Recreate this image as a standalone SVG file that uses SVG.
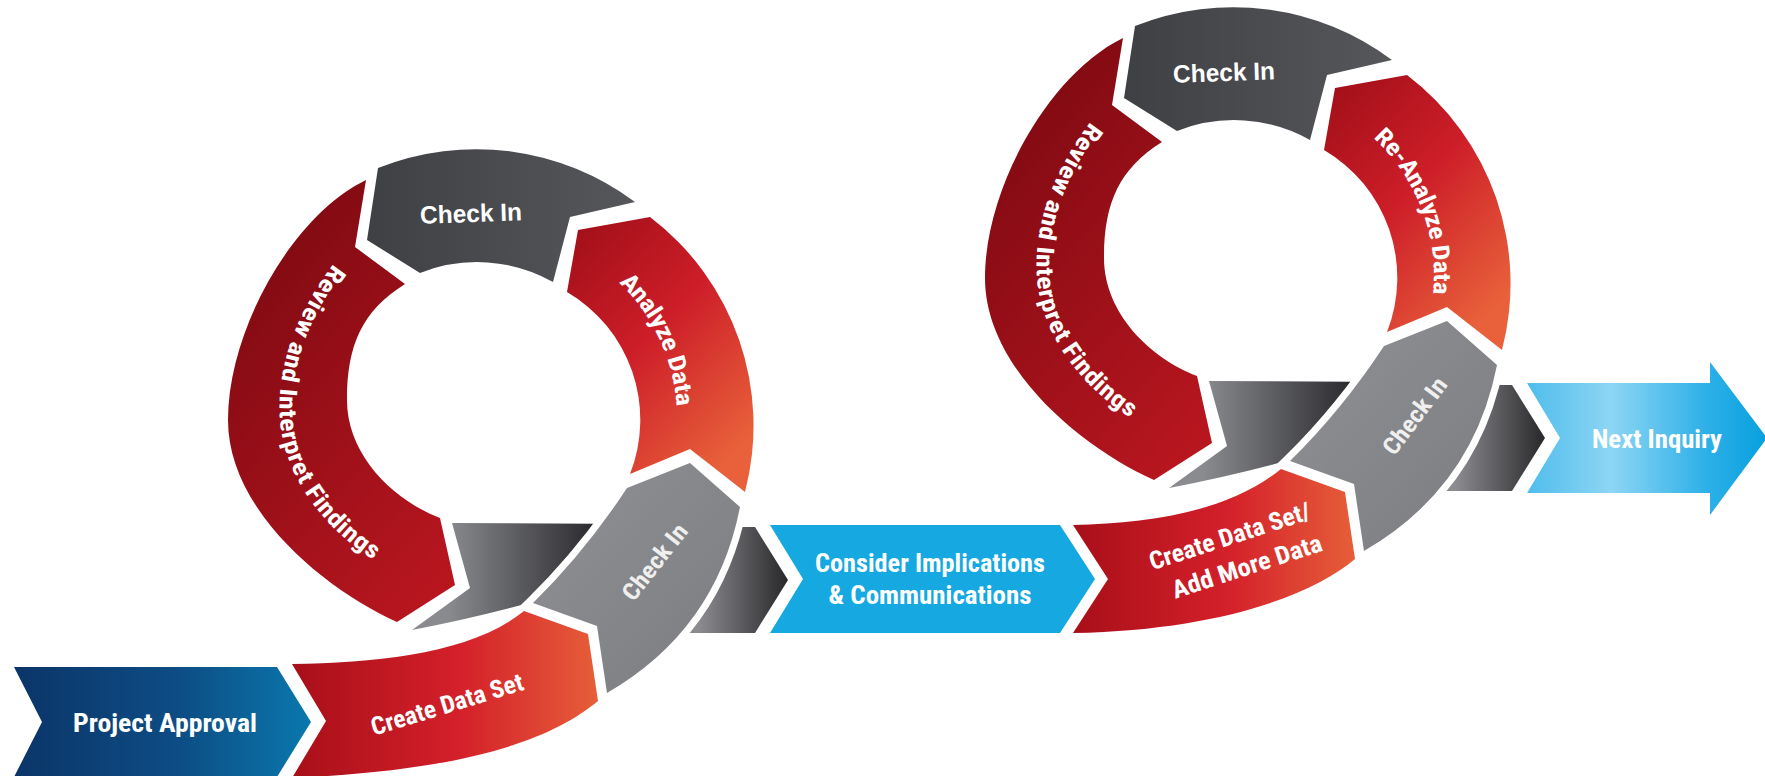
<svg xmlns="http://www.w3.org/2000/svg" width="1765" height="776" viewBox="0 0 1765 776">
<style>
.lbl{fill:#ffffff;font-family:'Roboto Condensed','Liberation Sans Narrow',Roboto,'Liberation Sans',sans-serif;font-weight:700;font-size:25px}
.ring{font-size:24px}
.ck{fill:#ffffff;font-family:'Liberation Sans',Arial,sans-serif;font-weight:700;font-size:25px}
.cklow{fill:#efefef;font-family:'Roboto Condensed','Liberation Sans Narrow',Roboto,sans-serif;font-weight:700;font-size:24px}
.low{fill:url(#gLow);stroke:#ffffff;stroke-width:14;stroke-linejoin:miter;paint-order:stroke}
</style>
<defs>
<linearGradient id="gPA" x1="0" y1="0" x2="1" y2="0"><stop offset="0" stop-color="#0b3568"/><stop offset="0.55" stop-color="#0d4c84"/><stop offset="1" stop-color="#0a78ad"/></linearGradient>
<linearGradient id="gReview" x1="0.2" y1="0" x2="0.8" y2="1"><stop offset="0" stop-color="#7c0911"/><stop offset="1" stop-color="#b8161f"/></linearGradient>
<linearGradient id="gAnalyze" x1="0" y1="0" x2="0.7" y2="1"><stop offset="0" stop-color="#9e0e17"/><stop offset="0.5" stop-color="#cd1e29"/><stop offset="1" stop-color="#e8613a"/></linearGradient>
<linearGradient id="gCreate" x1="0" y1="0" x2="1" y2="0"><stop offset="0" stop-color="#a80f19"/><stop offset="0.55" stop-color="#d4202a"/><stop offset="1" stop-color="#e65e39"/></linearGradient>
<linearGradient id="gTop" x1="0" y1="0" x2="1" y2="0"><stop offset="0" stop-color="#3f4044"/><stop offset="1" stop-color="#56575b"/></linearGradient>
<linearGradient id="gLow" x1="0" y1="0" x2="1" y2="1"><stop offset="0" stop-color="#909195"/><stop offset="1" stop-color="#7b7c80"/></linearGradient>
<linearGradient id="gDarkL" x1="0" y1="0" x2="1" y2="0"><stop offset="0.15" stop-color="#8a8b8f"/><stop offset="0.8" stop-color="#2b2b2f"/></linearGradient>
<linearGradient id="gDarkR" x1="0" y1="0" x2="1" y2="0"><stop offset="0.35" stop-color="#8c8c90"/><stop offset="1" stop-color="#28282b"/></linearGradient>
<linearGradient id="gNext" x1="0" y1="0" x2="1" y2="0"><stop offset="0" stop-color="#4fbdec"/><stop offset="0.35" stop-color="#8dd5f4"/><stop offset="0.75" stop-color="#2db0e8"/><stop offset="1" stop-color="#07a0df"/></linearGradient>
<path id="pRev" d="M360,245 C300,310 284,375 288,420 C292,475 335,535 405,568"/>
<path id="pAna" d="M540.5,229.6 A195,195 0 0 1 666.7,500.4"/>
<path id="shReview" d="M366,180 C292,216 228,330 228,420 C228,510 324,589 397,622 L455,585 L440,518 C393,500 347,455 347,400 C347,345 362,311 405,284 L355,247 Z"/>
<path id="shTop" d="M378,168 A265,265 0 0 1 635,202 L570,217 L553,282 A155,155 0 0 0 420,273 L367,240 Z"/>
<path id="shAnalyze" d="M650,217 L578,230 L567,292 A148,148 0 0 1 630,474 L690,449 L745,492 A262,262 0 0 0 650,217 Z"/>
<path id="shLow" d="M533,603 Q585,552 627,488 L690,463 L740,507 Q716,630 607,693 L597,626 Z"/>
<path id="shDL" d="M452,523 L640,524 L640,620 L540,600 Q475,618 412,630 L470,588 Z"/>
<path id="shDR" d="M650,527 L755,527 L788,580 L755,633 L650,633 Z"/>
</defs>
<rect width="1765" height="776" fill="#ffffff"/>

<g id="connectors">
  <use href="#shDL" fill="url(#gDarkL)"/>
  <use href="#shDR" fill="url(#gDarkR)"/>
  <g transform="translate(757,-142)">
    <use href="#shDL" fill="url(#gDarkL)"/>
    <use href="#shDR" fill="url(#gDarkR)"/>
  </g>
</g>

<g id="node-project-approval">
  <path d="M14,667 L277,667 L311,722 L277,777 L14,777 L42,722 Z" fill="url(#gPA)"/>
  <text class="lbl" x="165" y="732" text-anchor="middle" textLength="184" lengthAdjust="spacingAndGlyphs">Project Approval</text>
</g>

<g id="node-create-data-set">
  <path d="M292,664 C380,662 470,654 524,611 L588,634 L598,701 C552,739 470,770 292,778 L326,721 Z" fill="url(#gCreate)"/>
  <text class="lbl" transform="translate(447,704) rotate(-17)" x="0" y="9" text-anchor="middle" textLength="158" lengthAdjust="spacingAndGlyphs">Create Data Set</text>
</g>

<g id="node-review-1">
  <use href="#shReview" fill="url(#gReview)"/>
  <text class="lbl ring" dominant-baseline="central"><textPath href="#pRev" startOffset="50%" text-anchor="middle" textLength="330" lengthAdjust="spacingAndGlyphs">Review and Interpret Findings</textPath></text>
</g>

<g id="node-checkin-top-1">
  <use href="#shTop" fill="url(#gTop)"/>
  <text class="ck" transform="translate(471,213) rotate(-2)" x="0" y="9" text-anchor="middle" textLength="102" lengthAdjust="spacingAndGlyphs">Check In</text>
</g>

<g id="node-analyze-data">
  <use href="#shAnalyze" fill="url(#gAnalyze)"/>
  <text class="lbl ring" dominant-baseline="central"><textPath href="#pAna" startOffset="50%" text-anchor="middle" textLength="145" lengthAdjust="spacingAndGlyphs">Analyze Data</textPath></text>
</g>

<g id="node-checkin-low-1">
  <use href="#shLow" class="low"/>
  <text class="cklow" transform="translate(655,562) rotate(-52)" x="0" y="8" text-anchor="middle" textLength="90" lengthAdjust="spacingAndGlyphs">Check In</text>
</g>

<g id="node-consider">
  <path d="M770,525 L1060,525 L1095,579 L1060,633 L770,633 L803,579 Z" fill="#15a8e1"/>
  <text class="lbl" x="930" y="572" text-anchor="middle" textLength="230" lengthAdjust="spacingAndGlyphs">Consider Implications</text>
  <text class="lbl" x="930" y="604" text-anchor="middle" textLength="203" lengthAdjust="spacingAndGlyphs">&amp; Communications</text>
</g>

<g id="node-create-add-more">
  <path d="M1073,525 C1150,523 1228,512 1281,469 L1345,492 L1355,559 C1312,595 1220,630 1073,633 L1108,579 Z" fill="url(#gCreate)"/>
  <g transform="translate(1238,552) rotate(-18)">
    <text class="lbl" x="-3" y="-9" text-anchor="middle" textLength="168" lengthAdjust="spacingAndGlyphs">Create Data Set/</text>
    <text class="lbl" x="4" y="25" text-anchor="middle" textLength="156" lengthAdjust="spacingAndGlyphs">Add More Data</text>
  </g>
</g>

<g id="node-review-2" transform="translate(757,-142)">
  <use href="#shReview" fill="url(#gReview)"/>
  <text class="lbl ring" dominant-baseline="central"><textPath href="#pRev" startOffset="50%" text-anchor="middle" textLength="330" lengthAdjust="spacingAndGlyphs">Review and Interpret Findings</textPath></text>
</g>

<g id="node-checkin-top-2" transform="translate(757,-142)">
  <use href="#shTop" fill="url(#gTop)"/>
  <text class="ck" transform="translate(467,214) rotate(-2)" x="0" y="9" text-anchor="middle" textLength="102" lengthAdjust="spacingAndGlyphs">Check In</text>
</g>

<g id="node-reanalyze-data" transform="translate(757,-142)">
  <use href="#shAnalyze" fill="url(#gAnalyze)"/>
  <text class="lbl ring" dominant-baseline="central"><textPath href="#pAna" startOffset="54%" text-anchor="middle" textLength="180" lengthAdjust="spacingAndGlyphs">Re-Analyze Data</textPath></text>
</g>

<g id="node-checkin-low-2" transform="translate(757,-142)">
  <use href="#shLow" class="low"/>
  <text class="cklow" transform="translate(658,558) rotate(-53)" x="0" y="8" text-anchor="middle" textLength="90" lengthAdjust="spacingAndGlyphs">Check In</text>
</g>

<g id="node-next-inquiry">
  <path d="M1527,383 L1710,383 L1710,362 L1767,438 L1710,515 L1710,493 L1527,493 L1560,438 Z" fill="url(#gNext)"/>
  <text class="lbl" x="1657" y="448" text-anchor="middle" textLength="130" lengthAdjust="spacingAndGlyphs">Next Inquiry</text>
</g>
</svg>
